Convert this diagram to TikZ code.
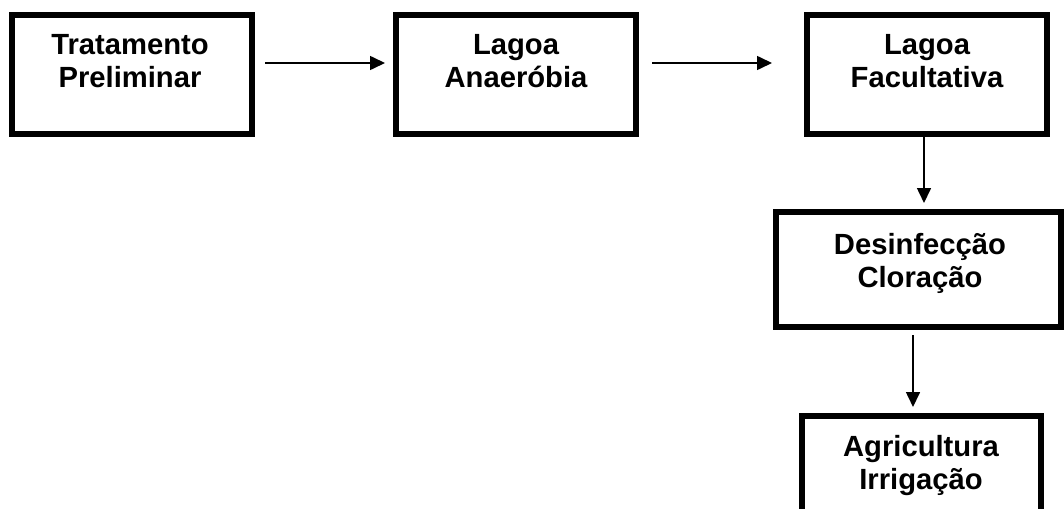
\documentclass[tikz,border=0pt]{standalone}
\usepackage{fontspec}
\setmainfont{Liberation Sans}
\usetikzlibrary{arrows.meta}
\tikzset{
  box/.style={draw=black, line width=6pt, inner sep=0pt, rectangle},
  lbl/.style={align=center, inner sep=0pt, font=\fontsize{29.2}{33}\selectfont\bfseries, anchor=base},
  arr/.style={line width=1.6pt, -{Triangle[length=15pt,width=14pt]}}
}
\begin{document}
\begin{tikzpicture}[x=1pt,y=-1pt]
\useasboundingbox (0,0) rectangle (1064,508);
\clip (0,0) rectangle (1064,508);
\fill[white] (0,0) rectangle (1064,508);
\node[box, minimum width=240pt, minimum height=119pt] (b1) at (132,74.5) {};
\node[box, minimum width=240pt, minimum height=119pt] (b2) at (516,74.5) {};
\node[box, minimum width=240pt, minimum height=119pt] (b3) at (927,74.5) {};
\node[box, minimum width=285pt, minimum height=115pt] (b4) at (918.5,269.5) {};
\node[box, minimum width=239pt, minimum height=120pt] (b5) at (921.5,476) {};
\node[lbl] (t1) at (130,87.5) {Tratamento\\Preliminar};
\node[lbl] (t2) at (516,87.5) {Lagoa\\Anaeróbia};
\node[lbl] (t3) at (927,87.5) {Lagoa\\Facultativa};
\node[lbl] (t4) at (920,287) {Desinfecção\\Cloração};
\node[lbl] (t5) at (921,489.5) {Agricultura\\Irrigação};
\draw[arr, shorten <=10pt, shorten >=8pt] ([yshift=11.5pt]b1.east) -- ([yshift=11.5pt]b2.west);
\draw[arr, shorten <=13pt, shorten >=32pt] ([yshift=11.5pt]b2.east) -- ([yshift=11.5pt]b3.west);
\draw[arr, shorten >=6pt] ([xshift=-3pt]b3.south) -- ([xshift=5.5pt]b4.north);
\draw[arr, shorten <=5pt, shorten >=6pt] ([xshift=-5.5pt]b4.south) -- ([xshift=-8.5pt]b5.north);
\end{tikzpicture}
\end{document}
